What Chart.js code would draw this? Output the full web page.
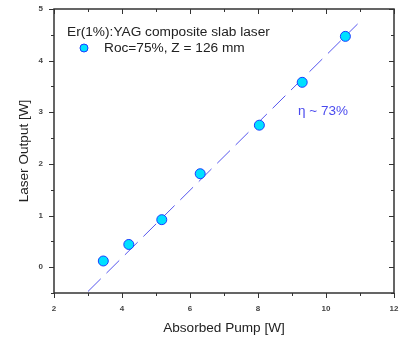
<!DOCTYPE html>
<html>
<head>
<meta charset="utf-8">
<script src="https://cdn.jsdelivr.net/npm/chart.js@4"></script>
<style>
  html, body { margin: 0; padding: 0; background: #fff; }
  #wrap { width: 405px; height: 340px; }
</style>
</head>
<body>
<div id="wrap"><canvas id="laserChart" width="405" height="340"></canvas></div>
<script>
(() => {
  // measured points
  const pumpPower = [3.45, 4.2, 5.17, 6.3, 8.04, 9.3, 10.57];
  const laserOutput = [0.12, 0.44, 0.92, 1.81, 2.75, 3.58, 4.47];

  // linear fit ends (dashed)
  const fitPump = [3.0, 10.93];
  const fitOutput = [-0.47, 4.71];

  const xTicks = [2, 3, 4, 5, 6, 7, 8, 9, 10, 11, 12];
  const yTicks = [-0.5, 0, 0.5, 1, 1.5, 2, 2.5, 3, 3.5, 4, 4.5, 5];

  const legendTitle = "Er(1%):YAG composite slab laser";
  const seriesName = "Roc=75%, Z = 126 mm";
  const slopeNote = "\u03B7 ~ 73%";

  const FONT = "'Liberation Sans', Arial, sans-serif";
  const HIDDEN = "rgba(0,0,0,0)";

  // ticks on all four sides: outward on left/bottom, inward on top/right
  const frameTicks = {
    id: "frameTicks",
    afterDraw(chart) {
      const { ctx, chartArea: a, scales } = chart;
      ctx.save();
      ctx.strokeStyle = "#333";
      ctx.lineWidth = 1;
      ctx.beginPath();
      xTicks.forEach((v) => {
        const px = Math.round(scales.x.getPixelForValue(v)) + 0.5;
        const len = v % 2 === 0 ? 5 : 3;
        ctx.moveTo(px, a.bottom); ctx.lineTo(px, a.bottom + len);
        ctx.moveTo(px, a.top); ctx.lineTo(px, a.top + len);
      });
      yTicks.forEach((v) => {
        const py = Math.round(scales.y.getPixelForValue(v)) + 0.5;
        const len = Number.isInteger(v) ? 5 : 3;
        ctx.moveTo(a.left, py); ctx.lineTo(a.left - len, py);
        ctx.moveTo(a.right, py); ctx.lineTo(a.right - len, py);
      });
      ctx.stroke();

      // frame
      ctx.lineWidth = 1.5;
      ctx.strokeRect(a.left, a.top, a.right - a.left, a.bottom - a.top);
      ctx.restore();
    },
  };

  const notes = {
    id: "notes",
    afterDraw(chart) {
      const { ctx } = chart;
      ctx.save();
      ctx.font = `13.7px ${FONT}`;
      ctx.fillStyle = "#222";
      ctx.textBaseline = "middle";
      ctx.fillText(legendTitle, 67, 32);
      ctx.fillText(seriesName, 104, 48);
      ctx.beginPath();
      ctx.arc(84, 48, 4, 0, Math.PI * 2);
      ctx.fillStyle = "#00e0ff";
      ctx.fill();
      ctx.strokeStyle = "#1a3cff";
      ctx.lineWidth = 1;
      ctx.stroke();
      ctx.font = `13.5px ${FONT}`;
      ctx.fillStyle = "#4a4aee";
      ctx.fillText(slopeNote, 298, 111);
      ctx.restore();
    },
  };

  const ctx = document.getElementById("laserChart").getContext("2d");
  new Chart(ctx, {
    type: "scatter",
    data: {
      datasets: [
        {
          label: "fit",
          type: "line",
          data: fitPump.map((x, i) => ({ x, y: fitOutput[i] })),
          borderColor: "#5555ee",
          borderWidth: 1,
          borderDash: [18, 8],
          pointRadius: 0,
          showLine: true,
          order: 2,
        },
        {
          label: seriesName,
          data: pumpPower.map((x, i) => ({ x, y: laserOutput[i] })),
          backgroundColor: "#00e0ff",
          borderColor: "#1a3cff",
          borderWidth: 1,
          pointRadius: 5,
          order: 1,
        },
      ],
    },
    options: {
      responsive: false,
      animation: false,
      layout: { padding: { top: 9, right: 11, left: 0, bottom: 0 } },
      plugins: {
        legend: { display: false },
        tooltip: { enabled: false },
      },
      scales: {
        x: {
          type: "linear",
          min: 2,
          max: 12,
          afterBuildTicks: (scale) => {
            scale.ticks = xTicks.map((v) => ({ value: v }));
          },
          afterFit: (scale) => { scale.height = 47; },
          ticks: {
            padding: 2,
            color: "#444",
            font: { size: 8, weight: "bold", family: FONT },
            callback: (v) => (v % 2 === 0 ? v : ""),
            maxRotation: 0,
            autoSkip: false,
          },
          grid: { color: HIDDEN, drawOnChartArea: false, drawTicks: true, tickLength: 9 },
          border: { display: false },
          title: {
            display: true,
            text: "Absorbed Pump [W]",
            color: "#222",
            font: { size: 13.6, family: FONT },
            padding: { top: 4 },
          },
        },
        y: {
          type: "linear",
          min: -0.5,
          max: 5,
          afterBuildTicks: (scale) => {
            scale.ticks = yTicks.map((v) => ({ value: v }));
          },
          afterFit: (scale) => { scale.width = 54; },
          ticks: {
            padding: 2,
            color: "#444",
            font: { size: 8, weight: "bold", family: FONT },
            callback: (v) => (Number.isInteger(v) ? v : ""),
            autoSkip: false,
          },
          grid: { color: HIDDEN, drawOnChartArea: false, drawTicks: true, tickLength: 9 },
          border: { display: false },
          title: {
            display: true,
            text: "Laser Output [W]",
            color: "#222",
            font: { size: 13.6, family: FONT },
            padding: { top: 16, bottom: 2 },
          },
        },
      },
    },
    plugins: [frameTicks, notes],
  });
})();
</script>
</body>
</html>
